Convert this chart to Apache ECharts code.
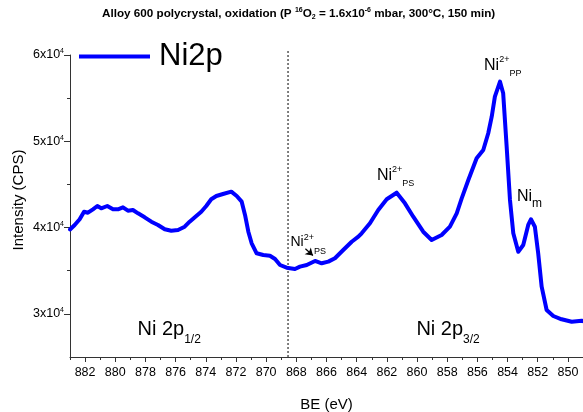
<!DOCTYPE html>
<html>
<head>
<meta charset="utf-8">
<script src="https://cdn.jsdelivr.net/npm/echarts@6/dist/echarts.min.js"></script>
<style>
  html, body { margin: 0; padding: 0; background: #fff; }
  #chart { width: 583px; height: 412px; }
</style>
</head>
<body>
<div id="chart"></div>
<script>
// Ni 2p XPS spectrum: binding energy (eV) and intensity (counts per second)
const bindingEnergy = [
  883.00, 882.69, 882.36, 882.07, 881.81, 881.48, 881.19, 880.93, 880.53, 880.15,
  879.82, 879.49, 879.16, 878.83, 878.49, 878.05, 877.61, 877.17, 876.72, 876.29,
  875.84, 875.40, 875.07, 874.63, 874.30, 873.97, 873.64, 873.30, 872.86, 872.31,
  871.95, 871.62, 871.40, 871.18, 870.96, 870.63, 870.19, 869.75, 869.41, 869.08,
  868.64, 868.09, 867.76, 867.31, 866.76, 866.32, 865.88, 865.44, 864.89, 864.33,
  863.89, 863.67, 863.12, 862.57, 862.01, 861.35, 860.80, 860.25, 859.59, 859.03,
  858.37, 857.82, 857.37, 857.04, 856.60, 856.05, 855.61, 855.28, 855.05, 854.84,
  854.50, 854.29, 854.06, 853.84, 853.62, 853.29, 852.96, 852.63, 852.45, 852.19,
  851.97, 851.74, 851.41, 850.97, 850.42, 849.75, 849.09, 849.00
];
const intensity = [
  39780, 40300, 40960, 41840, 41720, 42120, 42500, 42230, 42500, 42120,
  42120, 42350, 41960, 42040, 41650, 41190, 40680, 40300, 39800, 39640,
  39720, 40100, 40680, 41340, 41840, 42500, 43280, 43660, 43890, 44160,
  43660, 43000, 41460, 39520, 38180, 37020, 36820, 36740, 36360, 35660,
  35350, 35200, 35470, 35660, 36130, 35860, 36050, 36440, 37400, 38360,
  38940, 39340, 40500, 42040, 43280, 44040, 42810, 41260, 39520, 38560,
  39140, 40100, 41650, 43390, 45510, 48030, 48990, 50930, 52850, 55170,
  56910, 55560, 49370, 43200, 39340, 37200, 37980, 40300, 40960, 40100,
  37020, 33150, 30450, 29750, 29370, 29090, 29210, 29150
];
const seriesName = 'Ni2p';

// Axis ranges and tick values
const beRange = [849, 883];
const intensityRange = [25000, 60000];
const beMajorTicks = [850, 852, 854, 856, 858, 860, 862, 864, 866, 868, 870, 872, 874, 876, 878, 880, 882];
const beMinorTicks = [849, 851, 853, 855, 857, 859, 861, 863, 865, 867, 869, 871, 873, 875, 877, 879, 881, 883];
const intensityMajorTicks = [30000, 40000, 50000, 60000];
const intensityMinorTicks = [35000, 45000, 55000];

// Boundary between the 2p1/2 and 2p3/2 regions
const dividerBE = 868.55;
const dividerSpan = [25000, 60580];

// Peak and region annotations (anchor = left edge, vertical middle of the main text)
const annotations = [
  { main: 'Ni 2p', sub: '1/2', be: 878.53, intensity: 28245, kind: 'region' },
  { main: 'Ni 2p', sub: '3/2', be: 860.04, intensity: 28245, kind: 'region' },
  { main: 'Ni', sup: '2+', sub: 'PS', be: 862.66, intensity: 45980, kind: 'peak' },
  { main: 'Ni', sup: '2+', sub: 'PP', be: 855.56, intensity: 58730, kind: 'peak' },
  { main: 'Ni', sub: 'm', be: 853.38, intensity: 43600, kind: 'metal' },
  { main: 'Ni', sup: '2+', sub: 'PS', be: 868.39, intensity: 38270, kind: 'small' }
];
// Pointer from the small satellite label to the curve
const pointerFrom = [867.40, 37540];
const pointerTo = [866.90, 36760];

const FONT = 'Liberation Sans, Arial, Helvetica, sans-serif';

const richByKind = {
  region: {
    m: { fontSize: 20, color: '#000', fontFamily: FONT },
    b: { fontSize: 12, color: '#000', fontFamily: FONT, padding: [22, 0, 0, 0] }
  },
  peak: {
    m: { fontSize: 16, color: '#000', fontFamily: FONT },
    t: { fontSize: 9, color: '#000', fontFamily: FONT, padding: [0, 0, 12, 0] },
    b: { fontSize: 9, color: '#000', fontFamily: FONT, padding: [15, 0, 0, 0] }
  },
  metal: {
    m: { fontSize: 16, color: '#000', fontFamily: FONT },
    b: { fontSize: 12, color: '#000', fontFamily: FONT, padding: [14, 0, 0, 0] }
  },
  small: {
    m: { fontSize: 14, color: '#000', fontFamily: FONT },
    t: { fontSize: 9, color: '#000', fontFamily: FONT, padding: [0, 0, 9, 0] },
    b: { fontSize: 9, color: '#000', fontFamily: FONT, padding: [18, 0, 0, 0] }
  }
};

function annotationText(a) {
  let s = '{m|' + a.main + '}';
  if (a.sup) s += '{t|' + a.sup + '}';
  if (a.sub) s += '{b|' + a.sub + '}';
  return s;
}

const spectrum = bindingEnergy.map((be, i) => [be, intensity[i]]);

const chart = echarts.init(document.getElementById('chart'), null, { renderer: 'canvas' });

const axisColor = '#333';

chart.setOption({
  animation: false,
  backgroundColor: '#fff',
  textStyle: { fontFamily: FONT },
  title: {
    left: 102,
    top: 7,
    padding: 0,
    text: '{a|Alloy 600 polycrystal, oxidation (P }{t|16}{a|O}{b|2}{a| = 1.6x10}{t|-6}{a| mbar, 300°C, 150 min)}',
    textStyle: {
      rich: {
        a: { fontSize: 11.7, fontWeight: 'bold', color: '#000', fontFamily: FONT },
        t: { fontSize: 7, fontWeight: 'bold', color: '#000', fontFamily: FONT, padding: [0, 0, 7, 0] },
        b: { fontSize: 7, fontWeight: 'bold', color: '#000', fontFamily: FONT, padding: [7, 0, 0, 0] }
      }
    }
  },
  legend: {
    left: 79,
    top: 41,
    padding: 0,
    icon: 'rect',
    itemWidth: 71,
    itemHeight: 4,
    data: [seriesName],
    textStyle: { fontSize: 31, color: '#000', fontFamily: FONT, padding: [0, 0, 0, 4] }
  },
  grid: { left: 70, right: 0, top: 55, bottom: 55, containLabel: false, outerBoundsMode: 'none' },
  xAxis: [
    {
      type: 'value', position: 'bottom', inverse: true,
      min: beRange[0], max: beRange[1], interval: 1,
      axisLine: { show: true, lineStyle: { color: axisColor, width: 1 } },
      axisTick: { show: true, length: 3, customValues: beMinorTicks, lineStyle: { color: axisColor } },
      axisLabel: { show: false },
      splitLine: { show: false },
      name: 'BE (eV)', nameLocation: 'middle', nameGap: 40,
      nameTextStyle: { fontSize: 15, color: '#000', fontFamily: FONT }
    },
    {
      type: 'value', position: 'bottom', inverse: true,
      min: beRange[0], max: beRange[1], interval: 1,
      axisLine: { show: false },
      axisTick: { show: true, length: 5, customValues: beMajorTicks, lineStyle: { color: axisColor } },
      axisLabel: { show: true, customValues: beMajorTicks, margin: 9, fontSize: 12.5, color: '#000', fontFamily: FONT },
      splitLine: { show: false }
    }
  ],
  yAxis: [
    {
      type: 'value', position: 'left',
      min: intensityRange[0], max: intensityRange[1], interval: 5000,
      axisLine: { show: true, lineStyle: { color: axisColor, width: 1 } },
      axisTick: { show: true, length: 3, customValues: intensityMinorTicks, lineStyle: { color: axisColor } },
      axisLabel: { show: false },
      splitLine: { show: false },
      name: 'Intensity (CPS)', nameLocation: 'middle', nameGap: 44,
      nameTextStyle: { fontSize: 15, color: '#000', fontFamily: FONT, padding: [0, 0, 0, 12] }
    },
    {
      type: 'value', position: 'left',
      min: intensityRange[0], max: intensityRange[1], interval: 5000,
      axisLine: { show: false },
      axisTick: { show: true, length: 6, customValues: intensityMajorTicks, lineStyle: { color: axisColor } },
      axisLabel: {
        show: true, customValues: intensityMajorTicks, margin: 6,
        formatter: v => '{m|' + (v / 10000) + 'x10}{s|4}',
        rich: {
          m: { fontSize: 12.5, color: '#000', fontFamily: FONT },
          s: { fontSize: 7, color: '#000', fontFamily: FONT, padding: [0, 0, 7, 0] }
        }
      },
      splitLine: { show: false }
    }
  ],
  series: [
    {
      name: 'divider',
      type: 'line',
      xAxisIndex: 0, yAxisIndex: 0,
      data: dividerSpan.map(v => [dividerBE, v]),
      symbol: 'none',
      clip: false,
      silent: true,
      lineStyle: { color: '#000', width: 1, type: [2, 2] },
      z: 1
    },
    {
      name: seriesName,
      type: 'line',
      xAxisIndex: 0, yAxisIndex: 0,
      data: spectrum,
      symbol: 'none',
      smooth: false,
      lineStyle: { color: '#0000ff', width: 4, join: 'round', cap: 'round' },
      itemStyle: { color: '#0000ff' },
      z: 3,
      markPoint: {
        silent: true,
        symbol: 'circle',
        symbolSize: 0,
        itemStyle: { color: 'rgba(0,0,0,0)' },
        data: annotations.map(a => ({
          coord: [a.be, a.intensity],
          label: {
            show: true, position: 'right', distance: 0,
            formatter: annotationText(a),
            rich: richByKind[a.kind]
          }
        }))
      },
      markLine: {
        silent: true,
        symbol: ['none', 'arrow'],
        symbolSize: 7,
        label: { show: false },
        itemStyle: { color: '#000' },
        lineStyle: { color: '#000', width: 1.2, type: 'solid' },
        data: [[{ coord: pointerFrom }, { coord: pointerTo }]]
      }
    }
  ]
});
</script>
</body>
</html>
